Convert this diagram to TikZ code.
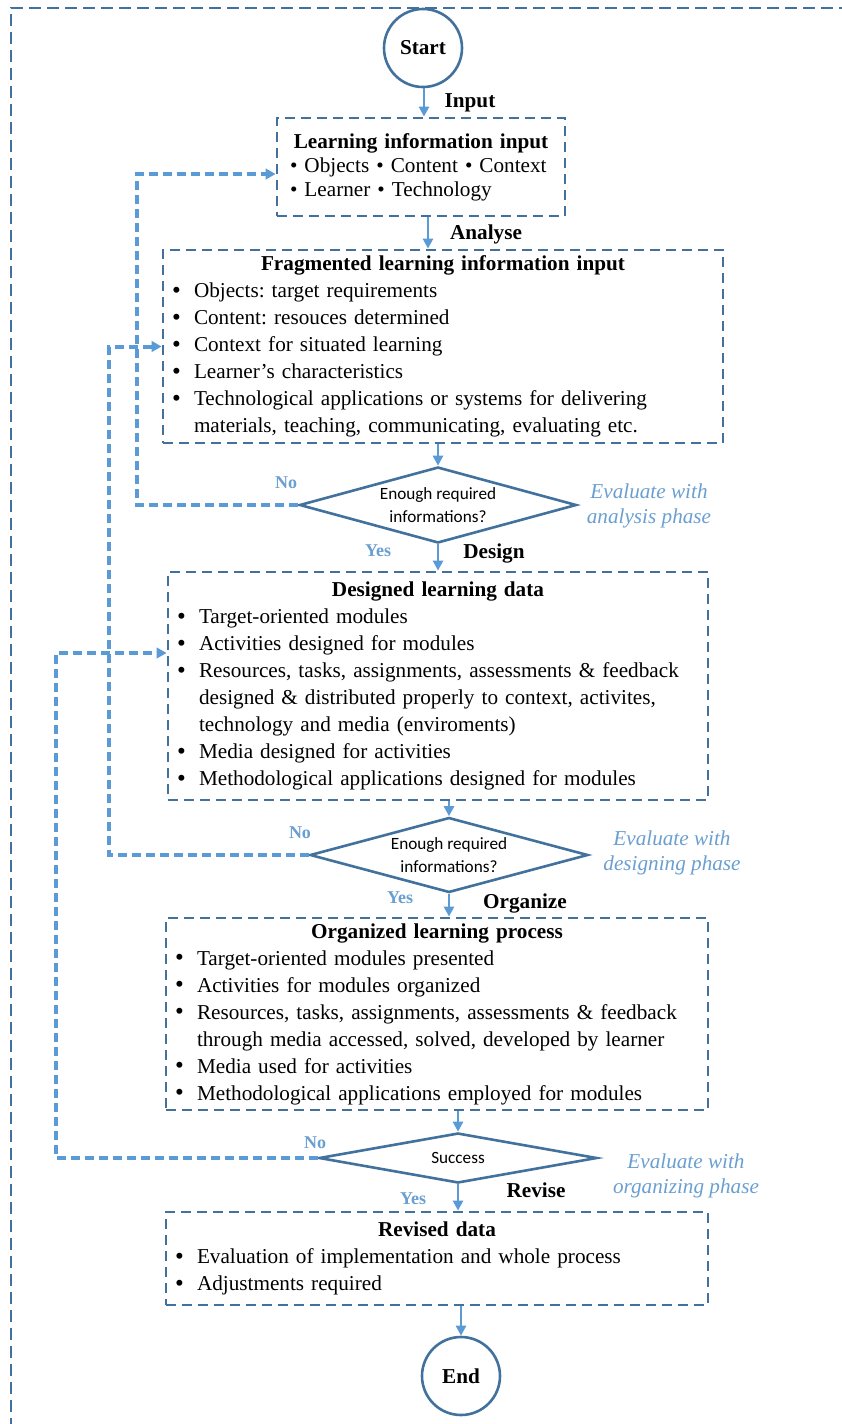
\documentclass[tikz,border=0pt]{standalone}
\usepackage{fontspec}
\setmainfont{Liberation Serif}
\newfontfamily\calib{Carlito}
\usetikzlibrary{shapes.geometric,arrows.meta}

\definecolor{framecol}{HTML}{41719C}
\definecolor{flowcol}{HTML}{5B9BD5}
\definecolor{notecol}{HTML}{6A9FD0}

% one bulleted entry with a hanging indent
\newcommand{\bitem}[1]{\hangindent=22pt\hangafter=1\noindent\makebox[22pt][l]{\raisebox{-0.5pt}{\fontsize{25}{27}\selectfont\textbullet}}#1\par}
% centred bold heading of a box
\newcommand{\btitle}[1]{{\centering\bfseries #1\par}}

\begin{document}
\frenchspacing
\begin{tikzpicture}[x=1pt,y=-1pt,
  every node/.style={font=\fontsize{21.2}{27}\selectfont},
  infobox/.style={draw=framecol, line width=2.8pt, dash pattern=on 10pt off 6pt,
    inner xsep=9pt, inner ysep=0pt, align=left},
  terminal/.style={circle, draw=framecol, line width=2.6pt, minimum size=78pt,
    inner sep=0pt, font=\fontsize{21.2}{27}\selectfont\bfseries},
  decision/.style={diamond, draw=framecol, line width=2.6pt, inner sep=0pt,
    align=center, font=\calib\fontsize{17.2}{23}\selectfont},
  phase/.style={font=\fontsize{21.2}{27}\selectfont\bfseries},
  answer/.style={text=notecol, font=\fontsize{18}{20}\selectfont\bfseries},
  evalnote/.style={text=notecol, align=center, font=\fontsize{21.2}{25}\selectfont\itshape},
  flow/.style={draw=flowcol, line width=2.8pt, -{Triangle[length=10pt,width=10pt]}},
  back/.style={draw=flowcol, line width=4pt, dash pattern=on 9pt off 5pt,
    -{Triangle[length=10pt,width=10.5pt]}},
  outer/.style={draw=framecol, line width=1.5pt, dash pattern=on 12pt off 6pt}]

\useasboundingbox (0,0) rectangle (841,1424);

% page frame (top and left edges)
\draw[outer] (11,1430) -- (11,8) -- (850,8);

% columns of the main flow and of the three return paths
\coordinate (c1) at (424,0);
\coordinate (c2) at (428,0);
\coordinate (f1) at (137,0);
\coordinate (f2) at (109,0);
\coordinate (f3) at (56,0);

% ---------- nodes ----------
\node[terminal] (start) at (423,48) {Start};

\node[infobox, text width=262pt, inner xsep=13pt, minimum height=98pt,
      font=\fontsize{21.2}{24}\selectfont] (inbox) at (421,167)
  {\btitle{Learning information input}
   \noindent\textbullet\ Objects \textbullet\ Content \textbullet\ Context\par
   \noindent\textbullet\ Learner \textbullet\ Technology\par};

\node[infobox, text width=542pt, minimum height=193pt] (frag) at (443,346.5)
  {\btitle{Fragmented learning information input}
   \bitem{Objects: target requirements}
   \bitem{Content: resouces determined}
   \bitem{Context for situated learning}
   \bitem{Learner’s characteristics}
   \bitem{Technological applications or systems for delivering\newline materials, teaching, communicating, evaluating etc.}};

\node[decision, minimum width=277pt, minimum height=76pt, aspect=3.7] (d1) at (438,505)
  {Enough required\\informations?};

\node[infobox, text width=522pt, minimum height=228pt] (design) at (438,686)
  {\btitle{Designed learning data}
   \bitem{Target-oriented modules}
   \bitem{Activities designed for modules}
   \bitem{Resources, tasks, assignments, assessments \& feedback\newline designed \& distributed properly to context, activites,\newline technology and media (enviroments)}
   \bitem{Media designed for activities}
   \bitem{Methodological applications designed for modules}};

\node[decision, minimum width=278pt, minimum height=75pt, aspect=3.7] (d2) at (449,855)
  {Enough required\\informations?};

\node[infobox, text width=524pt, minimum height=192pt] (org) at (437,1014)
  {\btitle{Organized learning process}
   \bitem{Target-oriented modules presented}
   \bitem{Activities for modules organized}
   \bitem{Resources, tasks, assignments, assessments \& feedback\newline through media accessed, solved, developed by learner}
   \bitem{Media used for activities}
   \bitem{Methodological applications employed for modules}};

\node[decision, minimum width=278pt, minimum height=50pt, aspect=5.5] (d3) at (458,1158)
  {Success};

\node[infobox, text width=524pt, minimum height=93pt] (rev) at (437,1258.5)
  {\btitle{Revised data}
   \bitem{Evaluation of implementation and whole process}
   \bitem{Adjustments required}};

\node[terminal] (finish) at (461,1376) {End};

% ---------- phase names and answers ----------
\node[phase] (pInput)   at (470,103)  {Input};
\node[phase] (pAnalyse) at (486,234)  {Analyse};
\node[phase] (pDesign)  at (494,553)  {Design};
\node[phase] (pOrg)     at (525,903)  {Organize};
\node[phase] (pRev)     at (536,1190) {Revise};

\node[answer] (no1)  at (286,483)  {No};
\node[answer] (yes1) at (378,551)  {Yes};
\node[answer] (no2)  at (300,833)  {No};
\node[answer] (yes2) at (400,898)  {Yes};
\node[answer] (no3)  at (315,1143) {No};
\node[answer] (yes3) at (413,1199) {Yes};

\node[evalnote] (e1) at (649,505.5)  {Evaluate with\\analysis phase};
\node[evalnote] (e2) at (672,852.5)  {Evaluate with\\designing phase};
\node[evalnote] (e3) at (686,1175.5) {Evaluate with\\organizing phase};

% ---------- main flow ----------
\draw[flow] (c1 |- start.south) -- (c1 |- inbox.north);
\draw[flow] (c2 |- inbox.south) -- (c2 |- frag.north);
\draw[flow] (d1.north |- frag.south) -- (d1.north);
\draw[flow] (d1.south) -- (d1.south |- design.north);
\draw[flow] (d2.north |- design.south) -- (d2.north);
\draw[flow] (d2.south) -- (d2.south |- org.north);
\draw[flow] (d3.north |- org.south) -- (d3.north);
\draw[flow] (d3.south) -- (d3.south |- rev.north);
\draw[flow] (finish.north |- rev.south) -- (finish.north);

% ---------- return paths ----------
\draw[back] (d1.west) -- (d1.west -| f1) |- ([yshift=-7pt]inbox.west);
\draw[back] (d2.west) -- (d2.west -| f2) |- (frag.west);
\draw[back] (d3.west) -- (d3.west -| f3) |- ([yshift=33pt]design.west);

\end{tikzpicture}
\end{document}
